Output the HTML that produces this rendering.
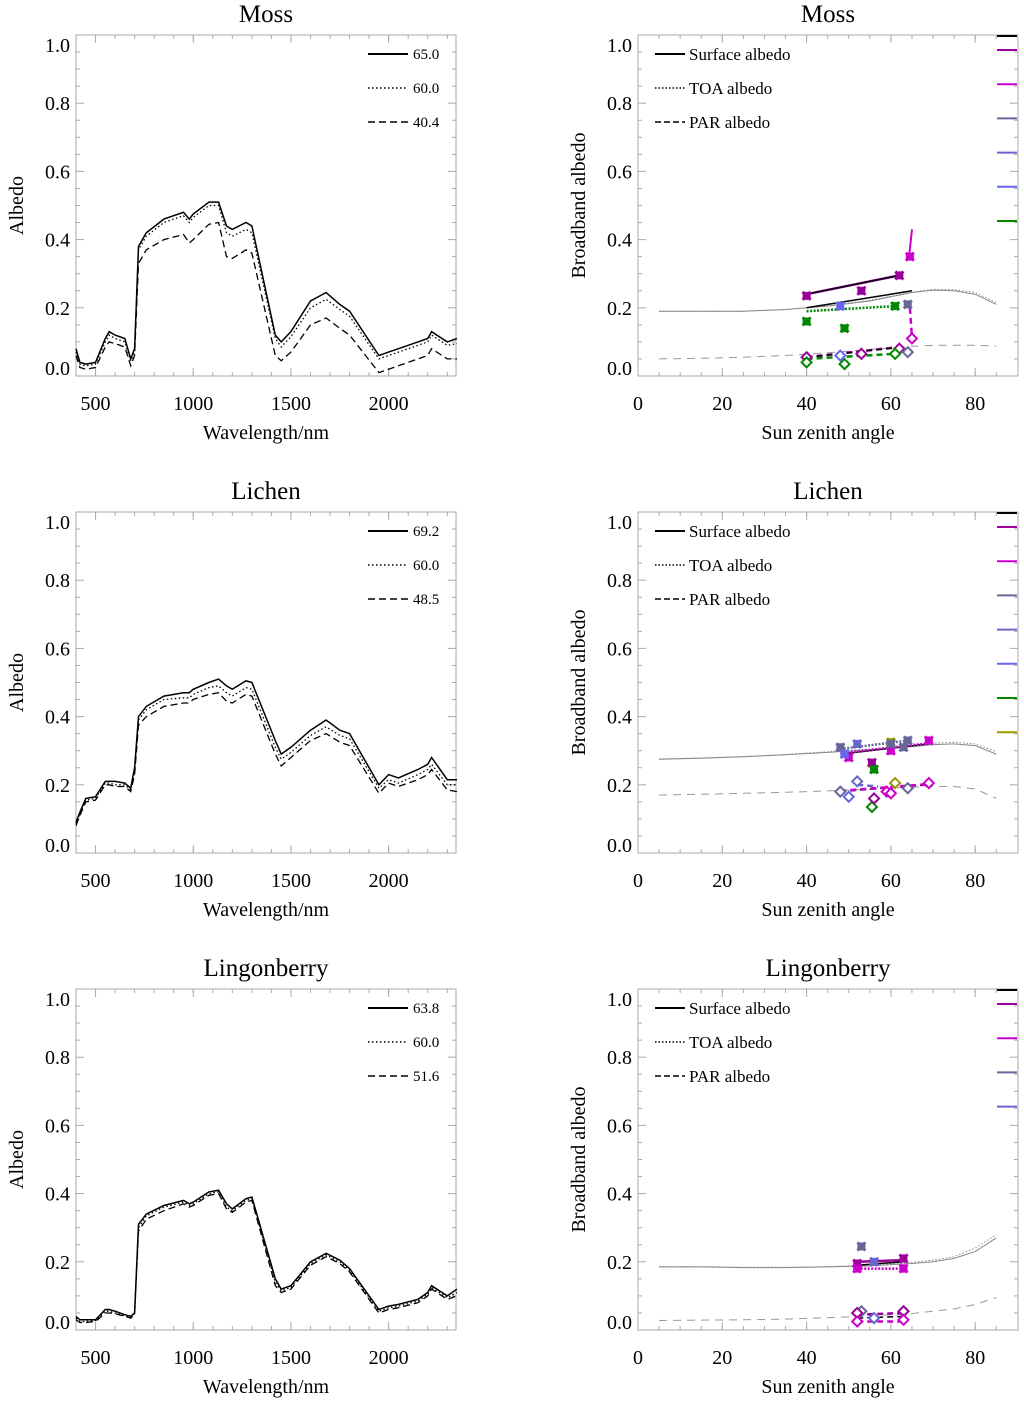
<!DOCTYPE html>
<html><head><meta charset="utf-8"><style>
html,body{margin:0;padding:0;background:#fff;}
svg{display:block;font-family:"Liberation Serif",serif;}
</style></head><body>
<svg id="fig" width="1024" height="1401" viewBox="0 0 1024 1401" xmlns="http://www.w3.org/2000/svg"></svg>
<script>
// ---------- DATA ----------
const wl = [400,420,450,500,550,570,600,650,680,700,720,760,850,950,980,1000,1080,1130,1170,1200,1270,1300,1420,1450,1500,1600,1680,1750,1800,1950,2000,2050,2150,2200,2220,2300,2350];
const mossSolid  = [0.08,0.04,0.035,0.04,0.11,0.13,0.12,0.11,0.05,0.08,0.38,0.42,0.46,0.48,0.46,0.475,0.51,0.51,0.44,0.43,0.45,0.44,0.12,0.10,0.13,0.22,0.245,0.21,0.19,0.06,0.07,0.08,0.10,0.11,0.13,0.10,0.11];
const mossDot    = [0.07,0.035,0.03,0.035,0.10,0.12,0.11,0.10,0.045,0.07,0.37,0.41,0.45,0.47,0.45,0.465,0.50,0.50,0.42,0.41,0.43,0.42,0.11,0.085,0.115,0.20,0.225,0.195,0.175,0.05,0.06,0.07,0.09,0.10,0.12,0.09,0.095];
const mossDash   = [0.06,0.025,0.02,0.025,0.085,0.10,0.095,0.085,0.03,0.06,0.33,0.37,0.40,0.415,0.39,0.40,0.445,0.45,0.35,0.345,0.37,0.36,0.06,0.045,0.07,0.15,0.17,0.14,0.12,0.01,0.02,0.03,0.05,0.06,0.08,0.05,0.05];
const lichSolid  = [0.09,0.12,0.16,0.165,0.21,0.21,0.21,0.205,0.19,0.25,0.40,0.43,0.46,0.47,0.47,0.48,0.50,0.51,0.49,0.48,0.505,0.50,0.33,0.29,0.31,0.36,0.39,0.36,0.35,0.20,0.23,0.22,0.245,0.26,0.28,0.215,0.215];
const lichDot    = [0.085,0.115,0.155,0.16,0.205,0.205,0.20,0.20,0.185,0.24,0.39,0.42,0.45,0.455,0.455,0.465,0.485,0.49,0.47,0.46,0.485,0.48,0.31,0.275,0.295,0.345,0.37,0.345,0.335,0.19,0.215,0.205,0.23,0.245,0.26,0.20,0.20];
const lichDash   = [0.08,0.11,0.15,0.155,0.20,0.20,0.195,0.195,0.18,0.23,0.375,0.40,0.43,0.44,0.44,0.45,0.465,0.47,0.445,0.44,0.465,0.46,0.29,0.255,0.28,0.33,0.35,0.325,0.315,0.175,0.205,0.195,0.215,0.23,0.245,0.185,0.18];
const lingSolid  = [0.04,0.03,0.03,0.03,0.06,0.06,0.055,0.045,0.04,0.05,0.31,0.34,0.365,0.38,0.37,0.375,0.405,0.41,0.37,0.355,0.385,0.39,0.15,0.12,0.13,0.20,0.225,0.205,0.18,0.06,0.07,0.075,0.09,0.11,0.13,0.10,0.12];
const lingDot    = [0.035,0.025,0.025,0.028,0.055,0.055,0.05,0.042,0.038,0.048,0.30,0.335,0.36,0.375,0.365,0.37,0.40,0.405,0.36,0.35,0.38,0.385,0.14,0.115,0.125,0.195,0.22,0.20,0.175,0.055,0.065,0.07,0.085,0.105,0.125,0.095,0.11];
const lingDash   = [0.03,0.022,0.022,0.025,0.05,0.05,0.048,0.04,0.035,0.045,0.29,0.325,0.35,0.37,0.36,0.365,0.395,0.40,0.355,0.345,0.375,0.38,0.13,0.11,0.12,0.19,0.215,0.195,0.17,0.05,0.06,0.065,0.08,0.10,0.12,0.09,0.10];

const sza = [5,15,25,35,45,55,65,70,75,80,85];
const mossModelSurf = [0.19,0.19,0.19,0.195,0.205,0.22,0.245,0.252,0.25,0.24,0.21];
const mossModelToa  = [0.19,0.19,0.19,0.195,0.206,0.222,0.246,0.254,0.253,0.245,0.215];
const mossModelPar  = [0.05,0.052,0.055,0.06,0.068,0.078,0.087,0.09,0.09,0.09,0.088];
const lichModelSurf = [0.275,0.278,0.282,0.288,0.295,0.303,0.312,0.318,0.32,0.315,0.29];
const lichModelToa  = [0.276,0.279,0.283,0.289,0.297,0.305,0.315,0.322,0.325,0.32,0.297];
const lichModelPar  = [0.17,0.172,0.175,0.178,0.182,0.187,0.193,0.195,0.195,0.188,0.16];
const lingModelSurf = [0.185,0.185,0.183,0.183,0.185,0.188,0.195,0.2,0.21,0.23,0.27];
const lingModelToa  = [0.186,0.186,0.184,0.184,0.186,0.19,0.198,0.205,0.215,0.24,0.28];
const lingModelPar  = [0.028,0.029,0.03,0.032,0.036,0.041,0.048,0.055,0.062,0.075,0.095];

// measured points
const mossPtSza = [40,53,62,64.5,40,49,61,48,64,40,53,62,65,40,49,61,48,64];
const mossPtAlb = [0.235,0.25,0.295,0.35,0.16,0.14,0.205,0.205,0.21,0.055,0.065,0.08,0.11,0.04,0.035,0.065,0.06,0.07];
const mossPtCol = ['#990099','#990099','#990099','#cc00cc','#008800','#008800','#008800','#6666ee','#666699','#990099','#990099','#990099','#cc00cc','#008800','#008800','#008800','#6666ee','#666699'];
const mossPtMk  = ['x','x','x','x','x','x','x','x','x','d','d','d','d','d','d','d','d','d'];
const lichPtSza = [48,50,52,55.5,56,60,60,60,63,64,69,48,50,52,55.5,56,59,60,61,64,69,49];
const lichPtAlb = [0.31,0.28,0.32,0.265,0.245,0.325,0.30,0.32,0.31,0.33,0.33,0.18,0.165,0.21,0.135,0.16,0.18,0.175,0.205,0.19,0.205,0.29];
const lichPtCol = ['#666699','#cc00cc','#6666cc','#990099','#008800','#999900','#cc00cc','#666699','#666699','#666699','#cc00cc','#666699','#6666ee','#6666cc','#008800','#990099','#cc00cc','#cc00cc','#999900','#666699','#cc00cc','#6666ee'];
const lichPtMk  = ['x','x','x','x','x','x','x','x','x','x','x','d','d','d','d','d','d','d','d','d','d','x'];
const lingPtSza = [52,53,56,63,52,63,53,56,52,63,52,63];
const lingPtAlb = [0.195,0.245,0.2,0.21,0.18,0.18,0.055,0.035,0.05,0.055,0.025,0.03];
const lingPtCol = ['#990099','#666699','#6666cc','#990099','#cc00cc','#cc00cc','#666699','#6666cc','#990099','#990099','#cc00cc','#cc00cc'];
const lingPtMk  = ['x','x','x','x','x','x','d','d','d','d','d','d'];

// fitted lines: start sza, end sza, start albedo, end albedo, colour, style
const mossFitS0 = [40,40,40,40,64.5,40,40,40];
const mossFitS1 = [62,62,65,61,65,62,61,63];
const mossFitA0 = [0.24,0.24,0.2,0.19,0.2,0.055,0.05,0.055];
const mossFitA1 = [0.295,0.295,0.25,0.205,0.11,0.085,0.065,0.085];
const mossFitCol = ['#990099','#000','#000','#008800','#cc00cc','#990099','#008800','#000'];
const mossFitSty = ['solid','solid','solid','dot','dash','dash','dash','dash'];
const lichFitS0 = [48,48,48,52,48,48];
const lichFitS1 = [64,69,69,57,69,69];
const lichFitA0 = [0.305,0.29,0.292,0.2,0.18,0.182];
const lichFitA1 = [0.33,0.32,0.322,0.195,0.2,0.202];
const lichFitCol = ['#666699','#000','#cc00cc','#6666cc','#000','#cc00cc'];
const lichFitSty = ['dot','solid','dot','dash','dash','dash'];
const lingFitS0 = [52,52,52,52,52,52];
const lingFitS1 = [63,63,63,63,63,63];
const lingFitA0 = [0.2,0.18,0.19,0.045,0.025,0.035];
const lingFitA1 = [0.205,0.18,0.2,0.05,0.025,0.04];
const lingFitCol = ['#990099','#cc00cc','#000','#990099','#cc00cc','#000'];
const lingFitSty = ['solid','dot','solid','dash','dash','dash'];

// ---------- DRAW ----------
const NS='http://www.w3.org/2000/svg';
const svg=document.getElementById('fig');
function el(tag,attrs,parent){const e=document.createElementNS(NS,tag);for(const k in attrs)e.setAttribute(k,attrs[k]);(parent||svg).appendChild(e);return e;}
function txt(s,x,y,size,anchor,parent,rot){const t=el('text',{x:x,y:y,'font-size':size,'text-anchor':anchor||'middle',fill:'#000'},parent);if(rot)t.setAttribute('transform','rotate(-90 '+x+' '+y+')');t.textContent=s;return t;}

const rowTop=[35,512,989];
const H=341;
const titles=['Moss','Lichen','Lingonberry'];
const specSets=[[mossSolid,mossDot,mossDash],[lichSolid,lichDot,lichDash],[lingSolid,lingDot,lingDash]];
const specLeg=[['65.0','60.0','40.4'],['69.2','60.0','48.5'],['63.8','60.0','51.6']];
const models=[[mossModelSurf,mossModelToa,mossModelPar],[lichModelSurf,lichModelToa,lichModelPar],[lingModelSurf,lingModelToa,lingModelPar]];
const pts=[[mossPtSza,mossPtAlb,mossPtCol,mossPtMk],[lichPtSza,lichPtAlb,lichPtCol,lichPtMk],[lingPtSza,lingPtAlb,lingPtCol,lingPtMk]];
const fits=[[mossFitS0,mossFitS1,mossFitA0,mossFitA1,mossFitCol,mossFitSty],[lichFitS0,lichFitS1,lichFitA0,lichFitA1,lichFitCol,lichFitSty],[lingFitS0,lingFitS1,lingFitA0,lingFitA1,lingFitCol,lingFitSty]];
const sideCols=[['#000','#990099','#cc00cc','#666699','#6666cc','#6666ee','#008800'],
  ['#000','#990099','#cc00cc','#666699','#6666cc','#6666ee','#008800','#999900'],
  ['#000','#990099','#cc00cc','#666699','#6666cc']];
const dashes=['none','1.5 2.5','7 4'];

function frame(g,x0,x1,top,xticks,xminor,xs,ys){
  el('rect',{x:x0,y:top,width:x1-x0,height:H,fill:'none',stroke:'#aaa','stroke-width':1},g);
  for(let v=0;v<=1.0001;v+=0.05){const y=ys(v);const big=Math.abs(v*5-Math.round(v*5))<1e-6;const L=big?8:4;
    el('line',{x1:x0,x2:x0+L,y1:y,y2:y,stroke:'#aaa'},g);el('line',{x1:x1,x2:x1-L,y1:y,y2:y,stroke:'#aaa'},g);}
  xminor.forEach(v=>{const x=xs(v);el('line',{x1:x,x2:x,y1:top+H,y2:top+H-4,stroke:'#aaa'},g);el('line',{x1:x,x2:x,y1:top,y2:top+4,stroke:'#aaa'},g);});
  xticks.forEach(v=>{const x=xs(v);el('line',{x1:x,x2:x,y1:top+H,y2:top+H-8,stroke:'#aaa'},g);el('line',{x1:x,x2:x,y1:top,y2:top+8,stroke:'#aaa'},g);
    const t=txt(String(v),x,top+H+34,20,'middle',g);});
  ['0.0','0.2','0.4','0.6','0.8','1.0'].forEach((s,i)=>{let y=ys(i*0.2)+7;if(i===0)y-=8;if(i===5)y+=10;
    const t=txt(s,x0-6,y,20,'end',g);});
}
function path(pts2,g,stroke,w,dash){const d=pts2.map((p,i)=>(i?'L':'M')+p[0].toFixed(1)+' '+p[1].toFixed(1)).join(' ');
  const a={d:d,fill:'none',stroke:stroke,'stroke-width':w};if(dash!=='none')a['stroke-dasharray']=dash;return el('path',a,g);}

for(let r=0;r<3;r++){
  const top=rowTop[r];
  const gl=el('g',{});
  const lx0=76,lx1=456;
  const xs=v=>lx0+(v-400)*(97.7/500), ys=v=>top+H-v*H;
  const xt=[500,1000,1500,2000],xm=[];for(let v=500;v<=2300;v+=100)xm.push(v);
  frame(gl,lx0,lx1,top,xt,xm,xs,ys);
  let t=txt(titles[r],266,top-13,25,'middle',gl);
  t=txt('Wavelength/nm',266,top+H+63,20,'middle',gl);
  t=txt('Albedo',23,top+H/2,20,'middle',gl,true);
  specSets[r].forEach((ser,k)=>{const p=path(wl.map((w,i)=>[xs(w),ys(ser[i])]),gl,'#000',k===0?1.5:1.3,dashes[k]);
    
    const ly=top+19+k*34;const ll=el('line',{x1:368,x2:408,y1:ly,y2:ly,stroke:'#000','stroke-width':k===0?2:1.5},gl);if(k)ll.setAttribute('stroke-dasharray',dashes[k]);
    
    const lt=txt(specLeg[r][k],413,ly+5,15,'start',gl);});

  const gr=el('g',{});
  const rx0=638,rx1=1018;
  const xs2=v=>rx0+v*4.215;
  const xt2=[0,20,40,60,80],xm2=[];for(let v=5;v<90;v+=5)xm2.push(v);
  frame(gr,rx0,rx1,top,xt2,xm2,xs2,ys);
  t=txt(titles[r],828,top-13,25,'middle',gr);
  t=txt('Sun zenith angle',828,top+H+63,20,'middle',gr);
  t=txt('Broadband albedo',585,top+H/2,20,'middle',gr,true);
  const names=['Surface albedo','TOA albedo','PAR albedo'];
  const mcol=['#888','#888','#999'],mdash=['none','1.5 2','8 6'];
  models[r].forEach((ser,k)=>{const p=path(sza.map((s,i)=>[xs2(s),ys(ser[i])]),gr,mcol[k],1,mdash[k]);
    
    const ly=top+19+k*34;const ll=el('line',{x1:655,x2:685,y1:ly,y2:ly,stroke:'#000','stroke-width':k===0?2:1.5},gr);if(k)ll.setAttribute('stroke-dasharray',k===1?'1.5 2':'6 3');
    
    const lt=txt(names[k],689,ly+6,17,'start',gr);});
  const [f0,f1,a0,a1,fc,fs]=fits[r];
  f0.forEach((s,i)=>{const dash=fs[i]==='dash'?'6 4':(fs[i]==='dot'?'2 1.5':'none');
    const p=path([[xs2(s),ys(a0[i])],[xs2(f1[i]),ys(a1[i])]],gr,fc[i],fc[i]==='#000'?1.5:2.5,dash);
    });
  const [ps,pa,pc,pm]=pts[r];
  ps.forEach((s,i)=>{const x=xs2(s),y=ys(pa[i]);let m;
    if(pm[i]==='x'){m=el('path',{d:`M${x-4} ${y-4}L${x+4} ${y+4}M${x-4} ${y+4}L${x+4} ${y-4}M${x-4} ${y}L${x+4} ${y}M${x} ${y-4}L${x} ${y+4}`,stroke:pc[i],'stroke-width':3,fill:'none'},gr);}
    else{m=el('path',{d:`M${x} ${y-5}L${x+5} ${y}L${x} ${y+5}L${x-5} ${y}Z`,stroke:pc[i],'stroke-width':2,fill:'#fff'},gr);}
    });
  sideCols[r].forEach((c,k)=>{const yy=k===0?top+1:top+15+(k-1)*34.2;
    const l=el('line',{x1:997,x2:1017,y1:yy,y2:yy,stroke:c,'stroke-width':2},gr);
    });
}
(function(){const x1=638+65*4.215,y1=35+H-0.43*H,x2=638+64.4*4.215,y2=35+H-0.36*H;
 const a=el('line',{x1:x1,y1:y1,x2:x2,y2:y2,stroke:'#cc00cc','stroke-width':2},svg.children[1]);
 })();
</script>
</body></html>
